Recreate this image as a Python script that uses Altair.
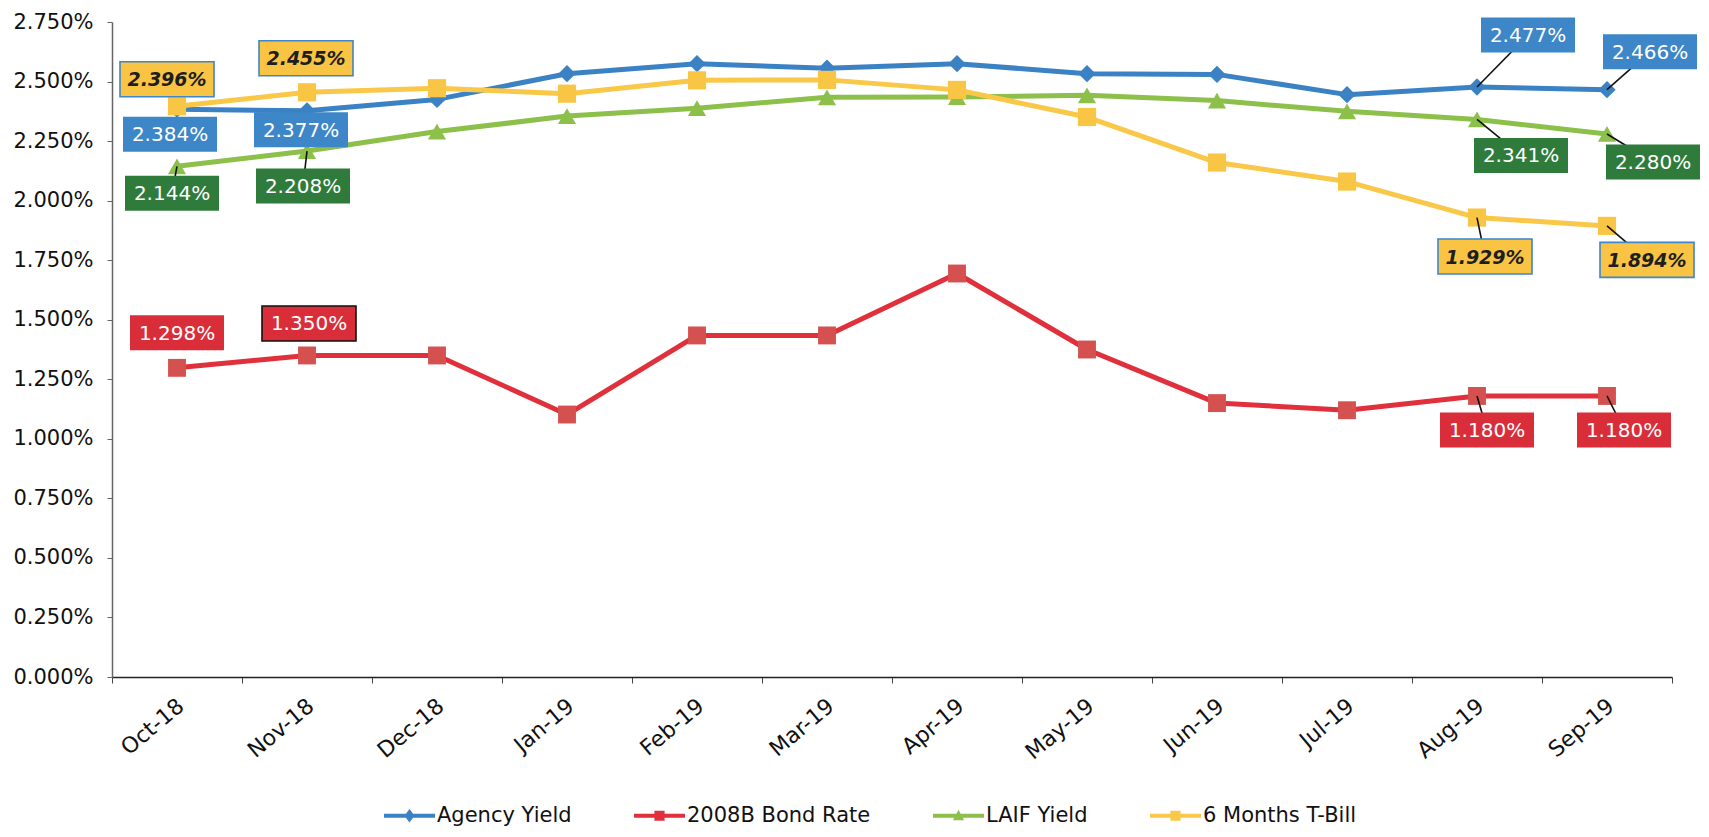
import altair as alt
import pandas as pd

# ---------------- data ----------------
months = ["Oct-18", "Nov-18", "Dec-18", "Jan-19", "Feb-19", "Mar-19",
          "Apr-19", "May-19", "Jun-19", "Jul-19", "Aug-19", "Sep-19"]
series_names = ["Agency Yield", "2008B Bond Rate", "LAIF Yield", "6 Months T-Bill"]

agency_yield = [2.384, 2.377, 2.425, 2.533, 2.575, 2.556, 2.575, 2.533, 2.530, 2.445, 2.477, 2.466]
bond_rate = [1.298, 1.350, 1.350, 1.102, 1.434, 1.434, 1.694, 1.375, 1.150, 1.120, 1.180, 1.180]
laif_yield = [2.144, 2.208, 2.290, 2.355, 2.388, 2.434, 2.435, 2.442, 2.420, 2.375, 2.341, 2.280]
tbill_6m = [2.396, 2.455, 2.472, 2.449, 2.505, 2.507, 2.465, 2.351, 2.160, 2.080, 1.929, 1.894]

y_ticks = [0.0, 0.25, 0.5, 0.75, 1.0, 1.25, 1.5, 1.75, 2.0, 2.25, 2.5, 2.75]

# ---------------- styles ----------------
line_colors = ["#3B82C4", "#E0303C", "#8CC04B", "#F9C848"]
marker_fills = ["#3B82C4", "#D4514F", "#8CC04B", "#F8C545"]
marker_shapes = ["diamond", "square", "triangle-up", "square"]
marker_sizes = [300, 320, 330, 330]

box_fill = {"Agency Yield": "#3D86C8", "2008B Bond Rate": "#D92E3A",
            "LAIF Yield": "#2F7B3C", "6 Months T-Bill": "#F9C443"}
box_stroke = {"Agency Yield": None, "2008B Bond Rate": None,
              "LAIF Yield": None, "6 Months T-Bill": "#3D86C8"}
text_color = {"Agency Yield": "white", "2008B Bond Rate": "white",
              "LAIF Yield": "white", "6 Months T-Bill": "#1E1E1E"}

# (series, month, dx, dy, leader line?, black border?)
label_specs = [
    ("6 Months T-Bill", "Oct-18", -10, -27, False, False),
    ("6 Months T-Bill", "Nov-18", -1, -34, False, False),
    ("Agency Yield", "Oct-18", -7, 25, False, False),
    ("Agency Yield", "Nov-18", -6, 19, False, False),
    ("LAIF Yield", "Oct-18", -5, 27, True, False),
    ("LAIF Yield", "Nov-18", -4, 35, True, False),
    ("Agency Yield", "Aug-19", 51, -52, True, False),
    ("Agency Yield", "Sep-19", 43, -38, True, False),
    ("LAIF Yield", "Aug-19", 44, 36, True, False),
    ("LAIF Yield", "Sep-19", 46, 28, True, False),
    ("6 Months T-Bill", "Aug-19", 8, 39, True, False),
    ("6 Months T-Bill", "Sep-19", 40, 34, True, False),
    ("2008B Bond Rate", "Oct-18", 0, -35, False, False),
    ("2008B Bond Rate", "Nov-18", 2, -32, False, True),
    ("2008B Bond Rate", "Aug-19", 10, 34, True, False),
    ("2008B Bond Rate", "Sep-19", 17, 34, True, False),
]

legend_paths = [
    "M-1,-0.08H1V0.08H-1Z M0,-0.26L0.2,0L0,0.26L-0.2,0Z",
    "M-1,-0.08H1V0.08H-1Z M-0.2,-0.2H0.2V0.2H-0.2Z",
    "M-1,-0.08H1V0.08H-1Z M0,-0.24L0.22,0.18H-0.22Z",
    "M-1,-0.08H1V0.08H-1Z M-0.2,-0.2H0.2V0.2H-0.2Z",
]

FONT = "DejaVu Sans"
W, H = 1560, 655
BOX_W, BOX_H = 94, 35

rows = []
for name, vals in zip(series_names, [agency_yield, bond_rate, laif_yield, tbill_6m]):
    for m, v in zip(months, vals):
        rows.append({"month": m, "series": name, "value": v})
df = pd.DataFrame(rows)

x_scale = alt.Scale(type="band", paddingInner=0, paddingOuter=0)
y_scale = alt.Scale(domain=[0, 2.75], nice=False, zero=True)

x_axis = alt.Axis(title=None, labelAngle=-40, labelAlign="right", labelBaseline="top",
                  labelFont=FONT, labelFontSize=22, labelColor="#111", labelPadding=12,
                  labelOffset=-3, tickBand="extent", tickSize=6, tickColor="#444",
                  domainColor="#222", domainWidth=1.5, labelOverlap=False, grid=False)
y_axis = alt.Axis(title=None, values=y_ticks, labelExpr="format(datum.value, '.3f') + '%'",
                  labelFont=FONT, labelFontSize=21, labelColor="#111", labelPadding=14,
                  tickSize=5, tickColor="#666", domainColor="#666", domainWidth=1.5,
                  grid=False, labelFlush=False)

X = alt.X("month:N", sort=months, bandPosition=0.5, scale=x_scale, axis=x_axis)
Y = alt.Y("value:Q", scale=y_scale, axis=y_axis)

base = alt.Chart(df)
layers = []

# lines
for i, name in enumerate(series_names):
    layers.append(
        base.transform_filter(alt.datum.series == name)
        .mark_line(strokeWidth=5, color=line_colors[i], strokeJoin="round")
        .encode(x=X, y=Y)
    )
# markers
for i, name in enumerate(series_names):
    layers.append(
        base.transform_filter(alt.datum.series == name)
        .mark_point(shape=marker_shapes[i], size=marker_sizes[i], filled=True,
                    fill=marker_fills[i], opacity=1)
        .encode(x=X, y=Y)
    )

# data labels
leaders, boxes, texts = [], [], []
for (s, m, dx, dy, leader, black_border) in label_specs:
    sel = base.transform_filter((alt.datum.series == s) & (alt.datum.month == m)) \
        .transform_calculate(label="format(datum.value, '.3f') + '%'")
    if leader:
        leaders.append(
            sel.mark_point(shape=f"M0,0L{dx},{dy}", size=4, filled=False,
                           stroke="#111", strokeWidth=1.6, opacity=1)
            .encode(x=X, y=Y)
        )
    x0, x1 = dx - BOX_W / 2, dx + BOX_W / 2
    y0, y1 = dy - BOX_H / 2, dy + BOX_H / 2
    path = f"M{x0},{y0}H{x1}V{y1}H{x0}Z"
    stroke = "#111" if black_border else box_stroke[s]
    box_kwargs = dict(shape=path, size=4, filled=True, fill=box_fill[s], opacity=1)
    if stroke:
        box_kwargs.update(stroke=stroke, strokeWidth=1.6)
    else:
        box_kwargs.update(strokeWidth=0)
    boxes.append(sel.mark_point(**box_kwargs).encode(x=X, y=Y))
    is_tb = s == "6 Months T-Bill"
    texts.append(
        sel.mark_text(dx=dx, dy=dy + 1, align="center", baseline="middle", font=FONT,
                      fontSize=19 if is_tb else 20,
                      fontWeight="bold" if is_tb else "normal",
                      fontStyle="italic" if is_tb else "normal",
                      color=text_color[s])
        .encode(x=X, y=Y, text="label:N")
    )
layers += leaders + boxes + texts

# legend layer (no marks drawn, only legend)
leg = alt.Legend(orient="none", legendX=272, legendY=768, direction="horizontal", title=None,
                 labelFont=FONT, labelFontSize=21, labelColor="#111", labelLimit=400,
                 symbolSize=2601, symbolStrokeWidth=0, labelOffset=2, columnPadding=62,
                 padding=0, symbolOpacity=1)
layers.append(
    base.transform_filter("false")
    .mark_point(filled=True, opacity=1)
    .encode(
        x=X, y=Y,
        color=alt.Color("series:N", scale=alt.Scale(domain=series_names, range=line_colors), legend=leg),
        shape=alt.Shape("series:N", scale=alt.Scale(domain=series_names, range=legend_paths), legend=leg),
    )
)

chart = alt.layer(*layers).properties(
    width=W, height=H,
    autosize=alt.AutoSizeParams(type="none"),
    padding={"left": 104, "top": 14, "right": 29, "bottom": 152},
).configure_view(stroke=None)

chart.save("out.html", embed_options={"renderer": "svg", "actions": False})
